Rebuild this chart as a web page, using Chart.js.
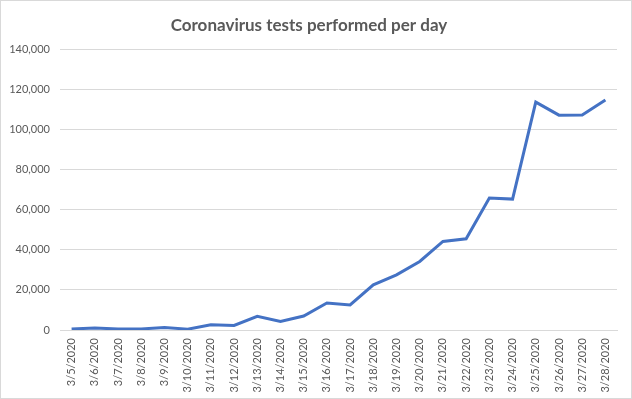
<!DOCTYPE html>
<html>
<head>
<meta charset="utf-8">
<script src="https://cdn.jsdelivr.net/npm/chart.js@4"></script>
<style>
    html, body { margin: 0; padding: 0; background: #fff; }
    #wrap {
        width: 632px;
        height: 399px;
        box-sizing: border-box;
        border: 1px solid #d9d9d9;
        position: relative;
    }
</style>
</head>
<body>
<div id="wrap"><canvas id="testsChart" width="630" height="397"></canvas></div>
<script>
const dateLabels = [
    '3/5/2020', '3/6/2020', '3/7/2020', '3/8/2020', '3/9/2020', '3/10/2020',
    '3/11/2020', '3/12/2020', '3/13/2020', '3/14/2020', '3/15/2020', '3/16/2020',
    '3/17/2020', '3/18/2020', '3/19/2020', '3/20/2020', '3/21/2020', '3/22/2020',
    '3/23/2020', '3/24/2020', '3/25/2020', '3/26/2020', '3/27/2020', '3/28/2020'
];
const testsPerDay = [
    500, 1000, 500, 500, 1300, 400,
    2600, 2300, 6800, 4300, 7000, 13500,
    12500, 22500, 27500, 34200, 44200, 45500,
    65800, 65300, 113700, 107200, 107300, 114700
];
const yMin = 0;
const yMax = 140000;
const yStep = 20000;

const textGrey = '#595959';
const gridGrey = '#d9d9d9';

new Chart(document.getElementById('testsChart').getContext('2d'), {
    type: 'line',
    data: {
        labels: dateLabels,
        datasets: [{
            label: 'Tests',
            data: testsPerDay,
            borderColor: '#4472C4',
            backgroundColor: '#4472C4',
            borderWidth: 3,
            pointRadius: 0,
            tension: 0,
            fill: false
        }]
    },
    options: {
        responsive: false,
        animation: false,
        layout: {
            padding: { left: 0, right: 14, top: 0, bottom: 0 }
        },
        plugins: {
            legend: { display: false },
            tooltip: { enabled: false },
            title: {
                display: true,
                text: 'Coronavirus tests performed per day',
                color: textGrey,
                font: { family: 'Lato', size: 17, weight: 'bold' },
                padding: { top: 14, bottom: 14 }
            }
        },
        scales: {
            x: {
                offset: true,
                grid: { display: false, drawTicks: false },
                border: { color: gridGrey, width: 1 },
                afterFit: (scale) => { scale.height = 68; },
                ticks: {
                    color: textGrey,
                    font: { family: 'Lato', size: 11 },
                    minRotation: 90,
                    maxRotation: 90,
                    autoSkip: false,
                    padding: 8
                }
            },
            y: {
                min: yMin,
                max: yMax,
                grid: { color: gridGrey, drawTicks: false },
                border: { display: false },
                afterFit: (scale) => { scale.width = 59; },
                ticks: {
                    stepSize: yStep,
                    color: textGrey,
                    font: { family: 'Lato', size: 11 },
                    padding: 10,
                    callback: (v) => v.toLocaleString('en-US')
                }
            }
        }
    }
});
</script>
</body>
</html>
